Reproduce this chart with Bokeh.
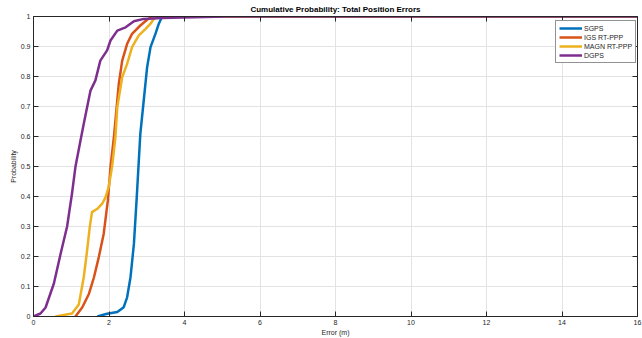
from bokeh.plotting import figure
from bokeh.models import LinearAxis, FixedTicker, Legend, LegendItem, Grid
from bokeh.embed import file_html
from bokeh.resources import INLINE

# Empirical CDF of total position error (m) for each positioning method
sgps_err = [1.69, 1.95, 2.22, 2.39, 2.48, 2.57, 2.66, 2.73, 2.79, 2.83, 2.92, 3.01, 3.10, 3.23, 3.32, 3.41, 16.0]
sgps_prob = [0.0, 0.009, 0.015, 0.031, 0.064, 0.131, 0.242, 0.387, 0.52, 0.609, 0.72, 0.831, 0.898, 0.942, 0.976, 1.0, 1.0]

igs_err = [1.11, 1.29, 1.47, 1.60, 1.73, 1.86, 1.97, 2.04, 2.13, 2.26, 2.35, 2.48, 2.61, 2.83, 3.01, 3.14, 16.0]
igs_prob = [0.0, 0.03, 0.076, 0.13, 0.198, 0.276, 0.387, 0.498, 0.598, 0.776, 0.853, 0.909, 0.942, 0.97, 0.989, 1.0, 1.0]

magn_err = [0.58, 1.02, 1.20, 1.33, 1.42, 1.49, 1.55, 1.69, 1.82, 1.91, 1.99, 2.08, 2.17, 2.22, 2.35, 2.48, 2.61, 2.79, 2.97, 3.10, 3.23, 16.0]
magn_prob = [0.0, 0.01, 0.04, 0.13, 0.22, 0.298, 0.348, 0.359, 0.376, 0.398, 0.431, 0.498, 0.598, 0.698, 0.798, 0.842, 0.898, 0.937, 0.959, 0.976, 1.0, 1.0]

dgps_err = [0.0, 0.185, 0.32, 0.54, 0.72, 0.89, 1.02, 1.11, 1.245, 1.33, 1.51, 1.64, 1.77, 1.95, 2.04, 2.22, 2.44, 2.66, 2.92, 3.4, 5.1, 16.0]
dgps_prob = [0.0, 0.01, 0.03, 0.11, 0.21, 0.30, 0.41, 0.498, 0.587, 0.642, 0.753, 0.787, 0.853, 0.887, 0.92, 0.953, 0.964, 0.984, 0.992, 0.995, 1.0, 1.0]

series_names = ["SGPS", "IGS RT-PPP", "MAGN RT-PPP", "DGPS"]
series_colors = ["#0072BD", "#D95319", "#EDB120", "#7E2F8E"]

x_ticks = [0, 2, 4, 6, 8, 10, 12, 14, 16]
y_ticks = [0.0, 0.1, 0.2, 0.3, 0.4, 0.5, 0.6, 0.7, 0.8, 0.9, 1.0]
y_tick_labels = ["0", "0.1", "0.2", "0.3", "0.4", "0.5", "0.6", "0.7", "0.8", "0.9", "1"]

FONT = "Liberation Sans"
INK = "#262626"

p = figure(width=642, height=338, x_range=(0, 16), y_range=(0, 1),
           output_backend="svg", toolbar_location=None,
           min_border_left=33, min_border_right=5,
           min_border_top=16, min_border_bottom=22,
           x_axis_location=None, y_axis_location=None)
p.outline_line_color = None
p.background_fill_color = "white"
p.border_fill_color = "white"
p.xgrid.visible = False
p.ygrid.visible = False


def style_axis(ax, show_labels):
    ax.axis_line_color = INK
    ax.axis_line_width = 1
    ax.major_tick_line_color = INK
    ax.major_tick_in = 5
    ax.major_tick_out = 0
    ax.minor_tick_line_color = None
    ax.major_label_text_font = FONT
    if show_labels:
        ax.major_label_text_color = INK
        ax.major_label_text_font_size = "7px"
        ax.major_label_standoff = 3
    else:
        # box edge: ticks only, no tick labels painted
        ax.major_label_text_color = None
        ax.major_label_text_font_size = "0px"
        ax.major_label_standoff = 0
    ax.axis_label_text_font = FONT
    ax.axis_label_text_color = INK
    ax.axis_label_text_font_size = "7px"
    ax.axis_label_text_font_style = "normal"
    ax.axis_label_standoff = 1


xb = LinearAxis(ticker=FixedTicker(ticks=x_ticks), axis_label="Error (m)")
style_axis(xb, True)
p.add_layout(xb, "below")

xt = LinearAxis(ticker=FixedTicker(ticks=x_ticks),
                axis_label="Cumulative Probability: Total Position Errors")
style_axis(xt, False)
xt.axis_label_text_font_size = "8px"
xt.axis_label_text_font_style = "bold"
xt.axis_label_text_color = "black"
xt.axis_label_standoff = 3
p.add_layout(xt, "above")

yl = LinearAxis(ticker=FixedTicker(ticks=y_ticks), axis_label="Probability")
style_axis(yl, True)
yl.major_label_overrides = {t: s for t, s in zip(y_ticks, y_tick_labels)}
p.add_layout(yl, "left")

yr = LinearAxis(ticker=FixedTicker(ticks=y_ticks))
style_axis(yr, False)
p.add_layout(yr, "right")

p.add_layout(Grid(dimension=0, ticker=FixedTicker(ticks=x_ticks),
                  grid_line_color="#e3e3e3", grid_line_width=1))
p.add_layout(Grid(dimension=1, ticker=FixedTicker(ticks=y_ticks),
                  grid_line_color="#e3e3e3", grid_line_width=1))

data = [(sgps_err, sgps_prob), (igs_err, igs_prob), (magn_err, magn_prob), (dgps_err, dgps_prob)]
items = []
for (xs, ys), name, color in zip(data, series_names, series_colors):
    r = p.line(xs, ys, line_color=color, line_width=2.5, line_join="round")
    items.append(LegendItem(label=name, renderers=[r]))

legend = Legend(items=items)
legend.margin = 0
legend.location = (522, 253)
legend.padding = 3
legend.spacing = 1
legend.glyph_width = 23
legend.glyph_height = 8
legend.label_height = 8
legend.label_standoff = 2
legend.label_text_font = FONT
legend.label_text_font_size = "7px"
legend.label_text_color = INK
legend.border_line_color = INK
legend.border_line_width = 1
legend.background_fill_color = "white"
legend.background_fill_alpha = 1
p.add_layout(legend, "center")

open("out.html", "w").write(file_html(p, INLINE))
